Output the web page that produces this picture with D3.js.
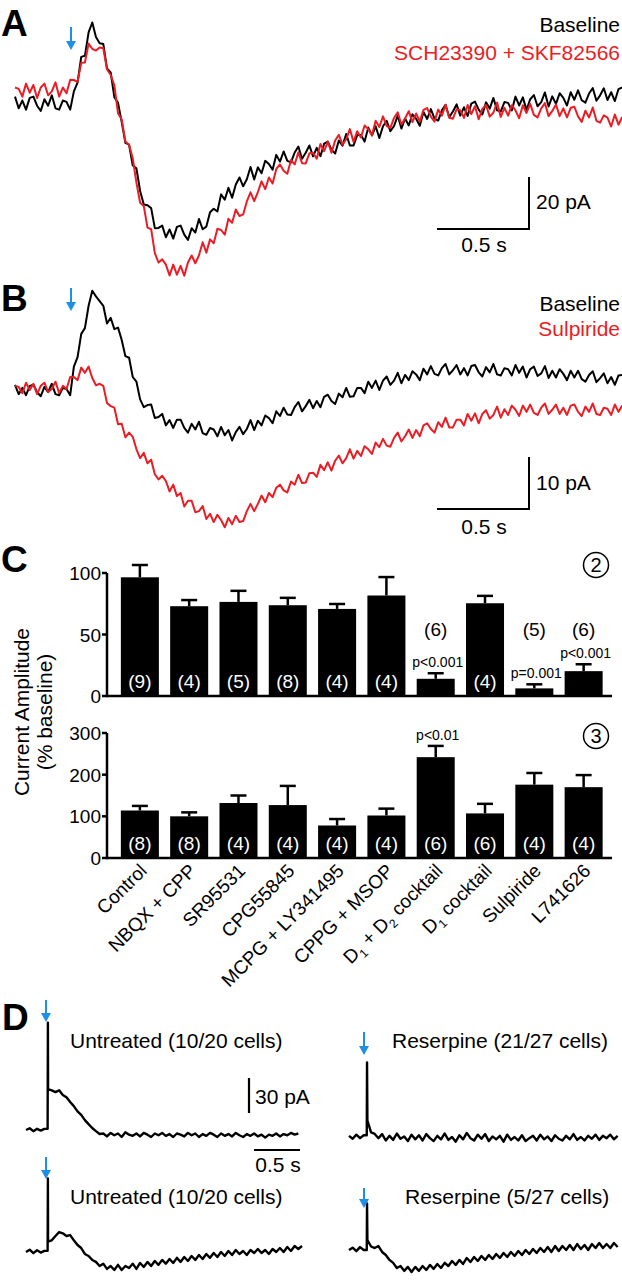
<!DOCTYPE html>
<html><head><meta charset="utf-8">
<script src="https://cdn.jsdelivr.net/npm/d3@7"></script>
<style>html,body{margin:0;padding:0;background:#fff}svg{display:block}text{font-family:"Liberation Sans",Arial,sans-serif}</style>
</head><body>
<script>
// ---------- DATA ----------
// Panel A/B traces (pA relative to baseline), sampled every 0.02 s
const dtAB = 0.02;
const traceABaseline = [1.3,-3.2,-0.2,-3.7,0.8,1.3,-2.2,-4.2,0.3,-2.2,
1.8,-3.2,-3.7,-0.2,-0.7,-3.7,3.3,6.7,16.6,17,
26,29.8,24.2,21.8,21.5,12.1,10.6,1.1,-1.1,-8.5,
-16.5,-17.2,-25.2,-26.3,-35,-40.2,-40.5,-41.6,-49.3,-49.2,
-48.3,-52.8,-49.8,-53.3,-48.8,-48.3,-51.8,-53.8,-49.3,-51,
-45.8,-49.7,-48.7,-43.2,-41.8,-42.9,-36.3,-38.3,-33.8,-37.6,
-32.5,-29.8,-33.2,-30.5,-25.8,-30.6,-25.9,-28.2,-23.4,-24.6,
-26.8,-21.1,-23.7,-19.8,-23.4,-24,-20.2,-17.9,-22.6,-20.3,
-17.5,-21.7,-18.4,-21.6,-16.8,-16,-19.1,-20.6,-15.6,-17.6,
-13.1,-17.5,-17.5,-13.5,-13.5,-16,-10.6,-13.6,-10.1,-14.6,
-10.1,-8,-12,-10,-6,-11,-7.1,-9.8,-5.5,-7.2,
-9.9,-4.6,-7.3,-3.5,-7.2,-7.9,-4,-1.8,-6.6,-4.4,
-1.7,-6,-2.8,-6.1,-1.4,-0.6,-3.7,-5.6,-0.9,-3.3,
0.8,-4,-4.4,-0.8,-1.1,-4,1.3,-2.1,1,-3.8,
0.3,1.9,-2.4,-0.8,2.9,-2.5,1.4,-1.5,2.6,0.8,
-2.1,3,0.1,3.7,-0.1,-1,2.5,4.6,-0.3,1.8,
4.5,0,3,-0.4,4.2,4.8];
const traceADrug = [4.8,4.3,1.3,6.3,2.8,5.8,0.8,4.8,6.3,1.8,
3.3,6.8,1.3,4.8,2.6,7.8,7.7,7,14.3,14.4,
21.7,19.7,19,20.2,19.9,11.8,9.6,5.6,-5.1,-7.5,
-16,-17.2,-22.5,-31.8,-39.5,-40.8,-49.1,-49.7,-58.9,-62.5,
-61.3,-63.3,-67.5,-63.3,-67.2,-63.8,-67.6,-62.5,-59.8,-62.8,
-59.7,-54.7,-58.7,-53.6,-55.1,-49.5,-50,-51.8,-45.7,-47.2,
-42.1,-44.6,-44,-39,-35.5,-38.9,-35.4,-31.3,-34.3,-29.8,
-32.1,-26.5,-24.8,-27.2,-28.4,-23.1,-24.8,-20.1,-24.3,-24.4,
-20.5,-20.3,-22.6,-16.9,-19.7,-16,-20.3,-15.6,-13.4,-17.2,
-15.1,-11.2,-16.1,-12,-14.4,-9.8,-11.2,-13.6,-8,-10.4,
-6.3,-10,-10.7,-6.9,-4.7,-9.4,-7.1,-4.3,-8.5,-5.2,
-8.3,-3.8,-3.1,-6.4,-8.3,-3.7,-6,-1.9,-6.8,-7.2,
-3.6,-3.9,-6.9,-1.9,-5.4,-2.4,-7.4,-3.4,-1.9,-6.4,
-4.9,-1,-6.5,-3,-6,-2,-4,-7,-2,-5,
-1.5,-5.7,-6.7,-3.2,-1.2,-6.2,-4.2,-1.7,-6.2,-3.2,
-6.7,-3,-2.6,-6.3,-8.4,-4.1,-6.7,-2.9,-8,-8.7,
-5.9,-6.8,-10.2,-5.6,-9.5,-6.5];
const traceBBaseline = [1,-0.8,0.4,-1,0.8,1,-0.4,-1.2,0.6,-0.4,
1.2,-0.8,-1,0.4,0.2,-1,4.5,6.3,10.8,11.9,
16.2,19.1,18,17.1,16.2,12.8,13.9,11.7,12,9.6,
6.5,6.2,2.5,1.6,-1.8,-3.3,-2.9,-2.8,-5.4,-5.2,
-4.6,-6.8,-5.8,-7.3,-5.7,-5.7,-7.3,-8.2,-6.5,-7.6,
-6.1,-8.3,-8.6,-7.3,-7.6,-8.9,-7.1,-8.7,-7.7,-9.7,
-8.1,-7.1,-8.5,-7.5,-5.8,-7.7,-5.9,-6.8,-4.9,-5.4,
-6.4,-4.1,-5,-3.4,-4.7,-4.8,-3.3,-2.3,-4.1,-3.1,
-1.9,-3.5,-2.1,-3.3,-1.3,-0.9,-2.1,-2.7,-0.7,-1.4,
0.4,-1.3,-1.2,0.4,0.4,-0.6,1.6,0.4,1.8,0,
1.8,2.6,1,1.8,3.3,1.3,2.9,1.9,3.6,3,
1.9,4.1,3,4.6,3.1,2.8,4.2,5,3,3.8,
4.8,3,4.2,2.8,4.6,4.8,3.4,2.6,4.4,3.4,
5,3,2.8,4.2,4,2.8,4.8,3.3,4.5,2.4,
4,4.5,2.7,3.2,4.6,2.3,3.7,2.4,4,3.1,
1.9,3.7,2.4,3.7,2.1,1.6,2.9,3.6,1.5,2.3,
3.2,1.3,2.5,1,2.8,2.9];
const traceBDrug = [0.8,0.6,-0.6,1.4,0,1.2,-0.8,0.8,1.4,-0.4,
0.2,1.6,-0.6,0.8,0.2,2.5,2.5,1.9,4.3,3.3,
4.5,2.3,0.9,1.2,0.8,-2.5,-3.1,-3.4,-6.6,-6.5,
-9.1,-8.2,-9,-11.4,-13.1,-12.1,-14.1,-13.4,-16.2,-17.2,
-16.5,-17.5,-19.5,-18.2,-20.4,-19.8,-22.4,-21.3,-21.3,-23.5,
-23.3,-22.3,-24.8,-23.8,-25.4,-24,-25,-26.4,-24.6,-25.8,
-24.2,-25.4,-25.2,-23.3,-21.9,-23.3,-21.9,-20.3,-21.6,-19.8,
-20.6,-18.8,-18.2,-19.3,-19.7,-17.6,-18.2,-16.3,-17.9,-17.8,
-16,-15.9,-16.7,-14.4,-15.4,-13.9,-15.5,-13.6,-12.6,-14.1,
-13.1,-11.4,-13.2,-11.7,-12.7,-10.8,-11.4,-12.3,-10.1,-11,
-9.4,-10.7,-10.9,-9.2,-8.2,-9.9,-8.9,-7.6,-9.2,-7.7,
-8.9,-6.8,-6.4,-7.5,-8.2,-6.2,-7.1,-5.3,-7.2,-7.2,
-5.7,-5.7,-6.8,-4.6,-5.9,-4.5,-6.4,-4.6,-3.9,-5.5,
-4.8,-3.2,-5.3,-3.7,-4.8,-3,-3.8,-5,-3,-4.2,
-2.8,-4.4,-4.8,-3.4,-2.6,-4.6,-3.8,-2.8,-4.6,-3.4,
-4.8,-3,-2.8,-4.2,-5,-3.2,-4.2,-2.6,-4.6,-4.8,
-3.4,-3.6,-4.8,-2.8,-4.2,-3];

// Panel C
const categories = ["Control","NBQX + CPP","SR95531","CPG55845","MCPG + LY341495","CPPG + MSOP","D1 + D2 cocktail","D1 cocktail","Sulpiride","L741626"];
const peak2Mean = [96.5,73,76.5,73.8,70.8,81.7,14,75.4,6.2,20.2];
const peak2Err  = [10,5,9,6,4,15,4.5,6,3.3,5.6];
const peak2N    = [9,4,5,8,4,4,6,4,5,6];
const peak2P    = ["","","","","","","p<0.001","","p=0.001","p<0.001"];
const peak3Mean = [114,100,132,127,78,102,242,107,176,170];
const peak3Err  = [11,9.5,18,46,15.5,16.5,27,23,28,29];
const peak3N    = [8,8,4,4,4,4,6,6,4,4];
const peak3P    = ["","","","","","","p<0.01","","",""];
const ticks2 = [0,50,100];
const ticks3 = [0,100,200,300];

// Panel D traces (pA relative to baseline), sampled every 0.04 s; stimulus spikes listed separately
const dtD = 0.04;
const traceUntreated1 = [0,1.5,-1,1,-0.5,1,35,34,32.5,34,30,28,24,20.5,16,13,8.5,5,1.7,-1,-3.4,-3,-5.5,-2.5,-4.5,-3,-6,-2,-4,-5,-3,-5.5,-2.5,-4,-6,-3,-4.5,-2.5,-5,-3.5,-6,-3,-4,-5.5,-2.5,-4.5,-3,-6,-3.5,-5,-2.5,-4,-6,-3,-5,-3.5,-5.5,-2.5,-4.5,-6,-3.5,-5,-3,-5.5,-4,-6.5,-4,-5,-3,-5.5,-3.5,-4.5,-2.5,-4,-3];
const traceReserpine1 = [1,-1.5,2,-1,1.5,14,4,2.6,-1,2.5,-3,1,-2.5,3,-1.5,0.5,-3.5,2,-2,1.5,-3,2.5,-1,-3.5,1,-2,3,-2.5,0,-4,1.5,-2,3.5,-1,-3,2,-1.5,2.5,-3.5,0.5,-2,1,-4,2,-2.5,0,-3,1.5,-3.5,-1,1,-3,2,-2,0.5,-3.5,1.5,-1.5,-3,1,-2,2.5,-2.5,0,-3,1,-1.5,2,-2.5,1,-1,2,-2,1];
const traceUntreated2 = [0,2,-1,1.5,-0.5,1,9,10,13.7,17,16,13.7,14.5,10,6,3.4,-1.7,-3.4,-6.8,-8.5,-12,-10,-14.5,-12,-15.4,-11,-15.4,-12,-13.7,-10,-14.5,-9.4,-12.8,-8.5,-12,-7.7,-11,-6.8,-10,-6,-9.4,-5,-8.5,-4.3,-7.7,-3.4,-6.8,-2.6,-6,-1.7,-5,-0.9,-4.3,0,-3.4,0.9,-2.6,1.7,-1.7,0.9,-2.6,1.7,-0.9,2.6,-0.9,1.7,-1.7,2.6,0,3.4,0,4.3,0.9,5.1,2.6,5.1];
const traceReserpine2 = [0,2,-1,2.5,0,8.5,3,1.7,3.4,-1.7,-4.3,-8.5,-11,-15.4,-13.7,-17.9,-14.5,-18.8,-14.5,-17.9,-13.7,-17.1,-12.8,-16.2,-12,-15.4,-11,-13.7,-9.4,-12.8,-8.5,-12,-6.8,-10.3,-6,-9.4,-5.1,-8.5,-4.3,-7.7,-3.4,-6.8,-2.6,-6,-1.7,-5.1,-0.9,-4.3,0,-3.4,0.9,-2.6,1.7,-1.7,2.6,-1.7,3.4,-0.9,3.4,0,4.3,0,5.1,0.9,4.3,0,5.1,1.7,6,1.7,5.1,1.7,6,2.6];
const spikeTimesD = [0.238, 0.196, 0.238, 0.196];
const spikePeaksD = [92, 64, 63, 40];

// ---------- DRAWING ----------
const W = 622, H = 1280;
const RED = "#ec1c24", BLUE = "#1e8fe8";
const svg = d3.select("body").append("svg").attr("width", W).attr("height", H);

function txt(x, y, s, opt = {}) {
  return svg.append("text").attr("x", x).attr("y", y).text(s)
    .attr("font-size", opt.size || 21).attr("fill", opt.fill || "#000")
    .attr("font-weight", opt.weight || "normal")
    .attr("text-anchor", opt.anchor || "start");
}
function arrow(x, y1, y2) {
  svg.append("line").attr("x1", x).attr("x2", x).attr("y1", y1).attr("y2", y2 - 6)
    .attr("stroke", BLUE).attr("stroke-width", 2);
  svg.append("path").attr("d", `M${x-5},${y2-9}L${x+5},${y2-9}L${x},${y2}Z`).attr("fill", BLUE);
}
function trace(data, dt, xs, ys, color, w, spikeT, spikeV) {
  let pts = data.map((v, i) => [i * dt, v]);
  if (spikeT !== undefined) {
    const k = pts.findIndex(p => p[0] >= spikeT);
    pts.splice(k, 0, [spikeT - 0.003, data[k - 1]], [spikeT, spikeV]);
  }
  const line = d3.line().x(p => xs(p[0])).y(p => ys(p[1]));
  svg.append("path").datum(pts).attr("d", line).attr("fill", "none")
    .attr("stroke", color).attr("stroke-width", w || 2).attr("stroke-linejoin", "round");
}
function scaleBar(x, yBottom, vLen, hLen) {
  svg.append("path").attr("d", `M${x},${yBottom - vLen}V${yBottom}H${x - hLen}`)
    .attr("fill", "none").attr("stroke", "#000").attr("stroke-width", 2);
}

// Panel labels
txt(1, 36, "A", {size: 37, weight: "bold"});
txt(1, 311, "B", {size: 37, weight: "bold"});
txt(1, 572, "C", {size: 37, weight: "bold"});
txt(2, 1030, "D", {size: 37, weight: "bold"});

// ---- Panel A ----
const xAB = d3.scaleLinear().domain([0, 1]).range([15, 15 + 184]);
const yA = d3.scaleLinear().domain([0, 20]).range([100, 48]);
trace(traceABaseline, dtAB, xAB, yA, "#000", 2);
trace(traceADrug, dtAB, xAB, yA, RED, 2);
arrow(71, 27, 50);
txt(620, 32, "Baseline", {anchor: "end"});
txt(620, 60, "SCH23390 + SKF82566", {anchor: "end", fill: RED});
scaleBar(529, 229, yA(0) - yA(20), xAB(0.5) - xAB(0));
txt(536, 209, "20 pA");
txt(484, 252, "0.5 s", {anchor: "middle"});

// ---- Panel B ----
const yB = d3.scaleLinear().domain([0, 10]).range([390, 338]);
trace(traceBBaseline, dtAB, xAB, yB, "#000", 2);
trace(traceBDrug, dtAB, xAB, yB, RED, 2);
arrow(71, 288, 311);
txt(620, 311, "Baseline", {anchor: "end"});
txt(620, 336, "Sulpiride", {anchor: "end", fill: RED});
scaleBar(529, 509, yB(0) - yB(10), xAB(0.5) - xAB(0));
txt(536, 490, "10 pA");
txt(484, 534, "0.5 s", {anchor: "middle"});

// ---- Panel C ----
const xC = d3.scaleBand().domain(categories).range([111, 612.5]).paddingInner(0.229).paddingOuter(0.2);
function barChart(means, errs, ns, ps, y, ticks, yTopAxis, nInside) {
  const g = svg.append("g");
  const x0 = 107, y0 = y(0);
  g.append("line").attr("x1", x0).attr("x2", 612).attr("y1", y0).attr("y2", y0).attr("stroke", "#000").attr("stroke-width", 2.5);
  g.append("line").attr("x1", x0).attr("x2", x0).attr("y1", y(yTopAxis)).attr("y2", y0 + 1.2).attr("stroke", "#000").attr("stroke-width", 2.5);
  ticks.forEach(t => {
    g.append("line").attr("x1", x0 - 5).attr("x2", x0).attr("y1", y(t)).attr("y2", y(t)).attr("stroke", "#000").attr("stroke-width", 2.5);
    g.append("text").attr("x", x0 - 6).attr("y", y(t) + 7).attr("text-anchor", "end").attr("font-size", 19).text(t);
  });
  categories.forEach((c, i) => {
    const bx = xC(c), bw = xC.bandwidth(), cx = bx + bw / 2;
    g.append("rect").attr("x", bx).attr("y", y(means[i])).attr("width", bw).attr("height", y0 - y(means[i])).attr("fill", "#000");
    g.append("line").attr("x1", cx).attr("x2", cx).attr("y1", y(means[i])).attr("y2", y(means[i] + errs[i])).attr("stroke", "#000").attr("stroke-width", 2.5);
    g.append("line").attr("x1", cx - 8).attr("x2", cx + 8).attr("y1", y(means[i] + errs[i])).attr("y2", y(means[i] + errs[i])).attr("stroke", "#000").attr("stroke-width", 2.5);
    const inside = nInside[i];
    g.append("text").attr("x", cx).attr("y", inside ? y0 - 8 : 636).attr("text-anchor", "middle")
      .attr("font-size", 19).attr("fill", inside ? "#fff" : "#000").text("(" + ns[i] + ")");
    if (ps[i]) {
      const py = y(means[i] + errs[i]) - 6;
      g.append("text").attr("x", cx + 2).attr("y", py).attr("text-anchor", "middle").attr("font-size", 14).text(ps[i]);
    }
  });
}
const y2 = d3.scaleLinear().domain([0, 100]).range([696, 573]);
const y3 = d3.scaleLinear().domain([0, 300]).range([858, 733]);
barChart(peak2Mean, peak2Err, peak2N, peak2P, y2, ticks2, 100, peak2Mean.map(v => v > 40));
barChart(peak3Mean, peak3Err, peak3N, peak3P, y3, ticks3, 300, peak3Mean.map(() => true));

[[596, 565, "2"], [596, 736, "3"]].forEach(([cx, cy, s]) => {
  svg.append("circle").attr("cx", cx).attr("cy", cy).attr("r", 12.5).attr("fill", "none").attr("stroke", "#000").attr("stroke-width", 1.5);
  svg.append("text").attr("x", cx).attr("y", cy + 7).attr("text-anchor", "middle").attr("font-size", 20).text(s);
});

svg.append("text").attr("transform", "translate(29,712) rotate(-90)").attr("text-anchor", "middle").attr("font-size", 21).text("Current Amplitude");
svg.append("text").attr("transform", "translate(52,712) rotate(-90)").attr("text-anchor", "middle").attr("font-size", 21).text("(% baseline)");

categories.forEach(c => {
  const cx = xC(c) + xC.bandwidth() / 2;
  const t = svg.append("text").attr("transform", `translate(${cx + 8},872) rotate(-45)`).attr("text-anchor", "end").attr("font-size", 19);
  const m = c.match(/^D1( \+ D2)? cocktail$/);
  if (m) {
    t.append("tspan").text("D");
    t.append("tspan").attr("font-size", 12).attr("dy", 5).text("1");
    if (m[1]) {
      t.append("tspan").attr("dy", -5).text(" + D");
      t.append("tspan").attr("font-size", 12).attr("dy", 5).text("2");
    }
    t.append("tspan").attr("dy", -5).text(" cocktail");
  } else t.text(c);
});

// ---- Panel D ----
const xDL = d3.scaleLinear().domain([0, 1]).range([26, 118]);
const xDR = d3.scaleLinear().domain([0, 1]).range([349, 441]);
const yD = base => d3.scaleLinear().domain([0, 30]).range([base, base - 35]);
trace(traceUntreated1, dtD, xDL, yD(1130), "#000", 2.4, spikeTimesD[0], spikePeaksD[0]);
trace(traceReserpine1, dtD, xDR, yD(1137), "#000", 2.4, spikeTimesD[1], spikePeaksD[1]);
trace(traceUntreated2, dtD, xDL, yD(1252), "#000", 2.4, spikeTimesD[2], spikePeaksD[2]);
trace(traceReserpine2, dtD, xDR, yD(1250), "#000", 2.4, spikeTimesD[3], spikePeaksD[3]);
arrow(46, 1000, 1022);
arrow(364, 1032, 1055);
arrow(46, 1157, 1179);
arrow(364, 1188, 1208);
txt(70, 1048, "Untreated (10/20 cells)");
txt(392, 1048, "Reserpine (21/27 cells)");
txt(70, 1204, "Untreated (10/20 cells)");
txt(405, 1204, "Reserpine (5/27 cells)");
const d30 = yD(0)(0) - yD(0)(30);
svg.append("line").attr("x1", 249).attr("x2", 249).attr("y1", 1113 - d30).attr("y2", 1113).attr("stroke", "#000").attr("stroke-width", 2.2);
txt(255, 1104, "30 pA");
svg.append("line").attr("x1", 254).attr("x2", 254 + (xDL(0.5) - xDL(0))).attr("y1", 1150).attr("y2", 1150).attr("stroke", "#000").attr("stroke-width", 2.2);
txt(278, 1172, "0.5 s", {anchor: "middle"});
</script>
</body></html>
